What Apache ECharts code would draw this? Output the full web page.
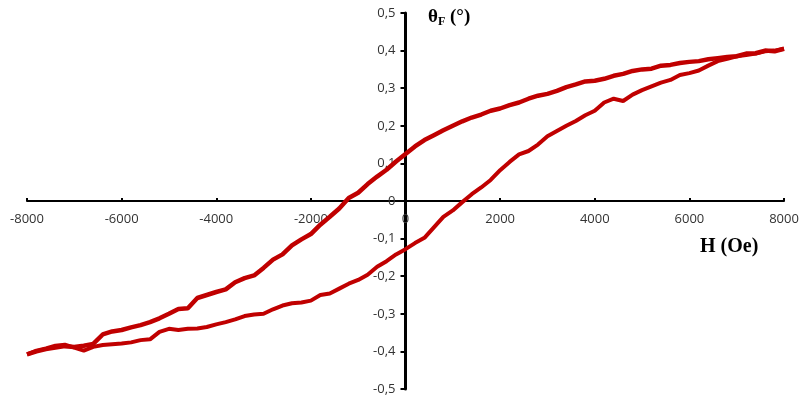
<!DOCTYPE html>
<html>
<head>
<meta charset="utf-8">
<script src="https://cdn.jsdelivr.net/npm/echarts@6/dist/echarts.min.js"></script>
<style>
  html, body { margin: 0; padding: 0; background: #fff; }
</style>
</head>
<body>
<div id="chart" style="width:805px;height:399px"></div>
<script>
// descending branch (H from +8000 to -8000)
var downH = [8000, 7800, 7600, 7400, 7200, 7000, 6800, 6600, 6400, 6200, 6000, 5800, 5600, 5400, 5200, 5000,
  4800, 4600, 4400, 4200, 4000, 3800, 3600, 3400, 3200, 3000, 2800, 2600, 2400, 2200, 2000, 1800, 1600,
  1400, 1200, 1000, 800, 600, 400, 200, 0, -200, -400, -600, -800, -1000, -1200, -1400, -1600, -1800,
  -2000, -2200, -2400, -2600, -2800, -3000, -3200, -3400, -3600, -3800, -4000, -4200, -4400, -4600,
  -4800, -5000, -5200, -5400, -5600, -5800, -6000, -6200, -6400, -6600, -6800, -7000, -7200, -7400,
  -7600, -7800, -8000]
var downTheta = [0.405, 0.398, 0.400, 0.393, 0.392, 0.385, 0.383, 0.380, 0.377, 0.372, 0.370, 0.367, 0.362,
  0.360, 0.352, 0.350, 0.346, 0.338, 0.333, 0.325, 0.320, 0.318, 0.310, 0.303, 0.293, 0.285, 0.280, 0.272,
  0.262, 0.255, 0.246, 0.240, 0.230, 0.222, 0.212, 0.200, 0.188, 0.175, 0.162, 0.145, 0.125, 0.105, 0.083,
  0.065, 0.045, 0.022, 0.008, -0.020, -0.042, -0.063, -0.088, -0.102, -0.118, -0.142, -0.156, -0.178,
  -0.198, -0.205, -0.216, -0.235, -0.242, -0.250, -0.258, -0.285, -0.287, -0.300, -0.312, -0.322, -0.330,
  -0.336, -0.343, -0.347, -0.355, -0.380, -0.385, -0.388, -0.386, -0.390, -0.394, -0.400, -0.408]

// ascending branch (H from -8000 to +8000)
var upH = [-8000, -7800, -7600, -7400, -7200, -7000, -6800, -6600, -6400, -6200, -6000, -5800, -5600, -5400,
  -5200, -5000, -4800, -4600, -4400, -4200, -4000, -3800, -3600, -3400, -3200, -3000, -2800, -2600, -2400,
  -2200, -2000, -1800, -1600, -1400, -1200, -1000, -800, -600, -400, -200, 0, 200, 400, 600, 800, 1000,
  1200, 1400, 1600, 1800, 2000, 2200, 2400, 2600, 2800, 3000, 3200, 3400, 3600, 3800, 4000, 4200, 4400,
  4600, 4800, 5000, 5200, 5400, 5600, 5800, 6000, 6200, 6400, 6600, 6800, 7000, 7200, 7400, 7600, 7800, 8000]
var upTheta = [-0.408, -0.398, -0.392, -0.385, -0.382, -0.390, -0.398, -0.388, -0.383, -0.381, -0.379, -0.376,
  -0.370, -0.368, -0.348, -0.340, -0.343, -0.340, -0.339, -0.335, -0.328, -0.322, -0.315, -0.306, -0.302,
  -0.300, -0.288, -0.278, -0.272, -0.270, -0.265, -0.250, -0.246, -0.233, -0.220, -0.210, -0.196, -0.175,
  -0.160, -0.142, -0.128, -0.112, -0.098, -0.070, -0.042, -0.025, -0.003, 0.018, 0.036, 0.056, 0.082, 0.104,
  0.124, 0.133, 0.150, 0.172, 0.186, 0.200, 0.213, 0.228, 0.240, 0.262, 0.272, 0.266, 0.283, 0.295, 0.305,
  0.315, 0.322, 0.335, 0.340, 0.347, 0.360, 0.372, 0.378, 0.385, 0.388, 0.392, 0.398, 0.400, 0.405]

var xTicks = [-8000, -6000, -4000, -2000, 0, 2000, 4000, 6000, 8000]
var yTicks = [-0.5, -0.4, -0.3, -0.2, -0.1, 0, 0.1, 0.2, 0.3, 0.4, 0.5]

function pairs (xs, ys) {
  return xs.map(function (x, i) { return [x, ys[i]] })
}

var chart = echarts.init(document.getElementById('chart'))
var lineColor = '#c00000'
var labelFont = '"Open Sans", "Liberation Sans", sans-serif'

// plot area; axes cross in its middle (0, 0)
var gLeft = 27
var gRight = 21
var gTop = 13
var gBottom = 10
var gWidth = 805 - gLeft - gRight
var gHeight = 399 - gTop - gBottom

var option = {
  animation: false,
  grid: { left: gLeft, right: gRight, top: gTop, bottom: gBottom },
  xAxis: {
    type: 'value',
    min: xTicks[0],
    max: xTicks[xTicks.length - 1],
    interval: 2000,
    position: 'bottom',
    offset: -gHeight / 2,
    axisLine: { onZero: false, lineStyle: { color: '#000', width: 2 } },
    axisTick: { show: true, inside: true, length: 3, lineStyle: { color: '#000', width: 2 } },
    axisLabel: {
      color: '#333',
      fontSize: 13,
      fontFamily: labelFont,
      margin: 12,
      formatter: function (v) { return String(v) }
    },
    splitLine: { show: false }
  },
  yAxis: {
    type: 'value',
    min: yTicks[0],
    max: yTicks[yTicks.length - 1],
    interval: 0.1,
    position: 'left',
    offset: -gWidth / 2,
    axisLine: { onZero: false, lineStyle: { color: '#000', width: 3 } },
    axisTick: { show: true, length: 5, lineStyle: { color: '#000', width: 2 } },
    axisLabel: {
      color: '#333',
      fontSize: 13,
      fontFamily: labelFont,
      margin: 10,
      formatter: function (v) {
        if (Math.abs(v) < 1e-9) return '0'
        return v.toFixed(1).replace('.', ',')
      }
    },
    splitLine: { show: false }
  },
  graphic: [
    {
      type: 'text',
      left: 428,
      top: 8,
      style: {
        text: '{t|θ}{s|F}{t| (°)}',
        rich: {
          t: { fontFamily: '"Liberation Serif", serif', fontWeight: 'bold', fontSize: 19, fill: '#000' },
          s: { fontFamily: '"Liberation Serif", serif', fontWeight: 'bold', fontSize: 12, fill: '#000', padding: [8, 0, 0, 0] }
        }
      }
    },
    {
      type: 'text',
      left: 700,
      top: 237,
      style: {
        text: 'H (Oe)',
        font: 'bold 20px "Liberation Serif", serif',
        fill: '#000'
      }
    }
  ],
  series: [
    {
      type: 'line',
      data: pairs(downH, downTheta),
      showSymbol: false,
      lineStyle: { color: lineColor, width: 4.5 },
      z: 3
    },
    {
      type: 'line',
      data: pairs(upH, upTheta),
      showSymbol: false,
      lineStyle: { color: lineColor, width: 4 },
      z: 3
    }
  ]
}
chart.setOption(option)
</script>
</body>
</html>
